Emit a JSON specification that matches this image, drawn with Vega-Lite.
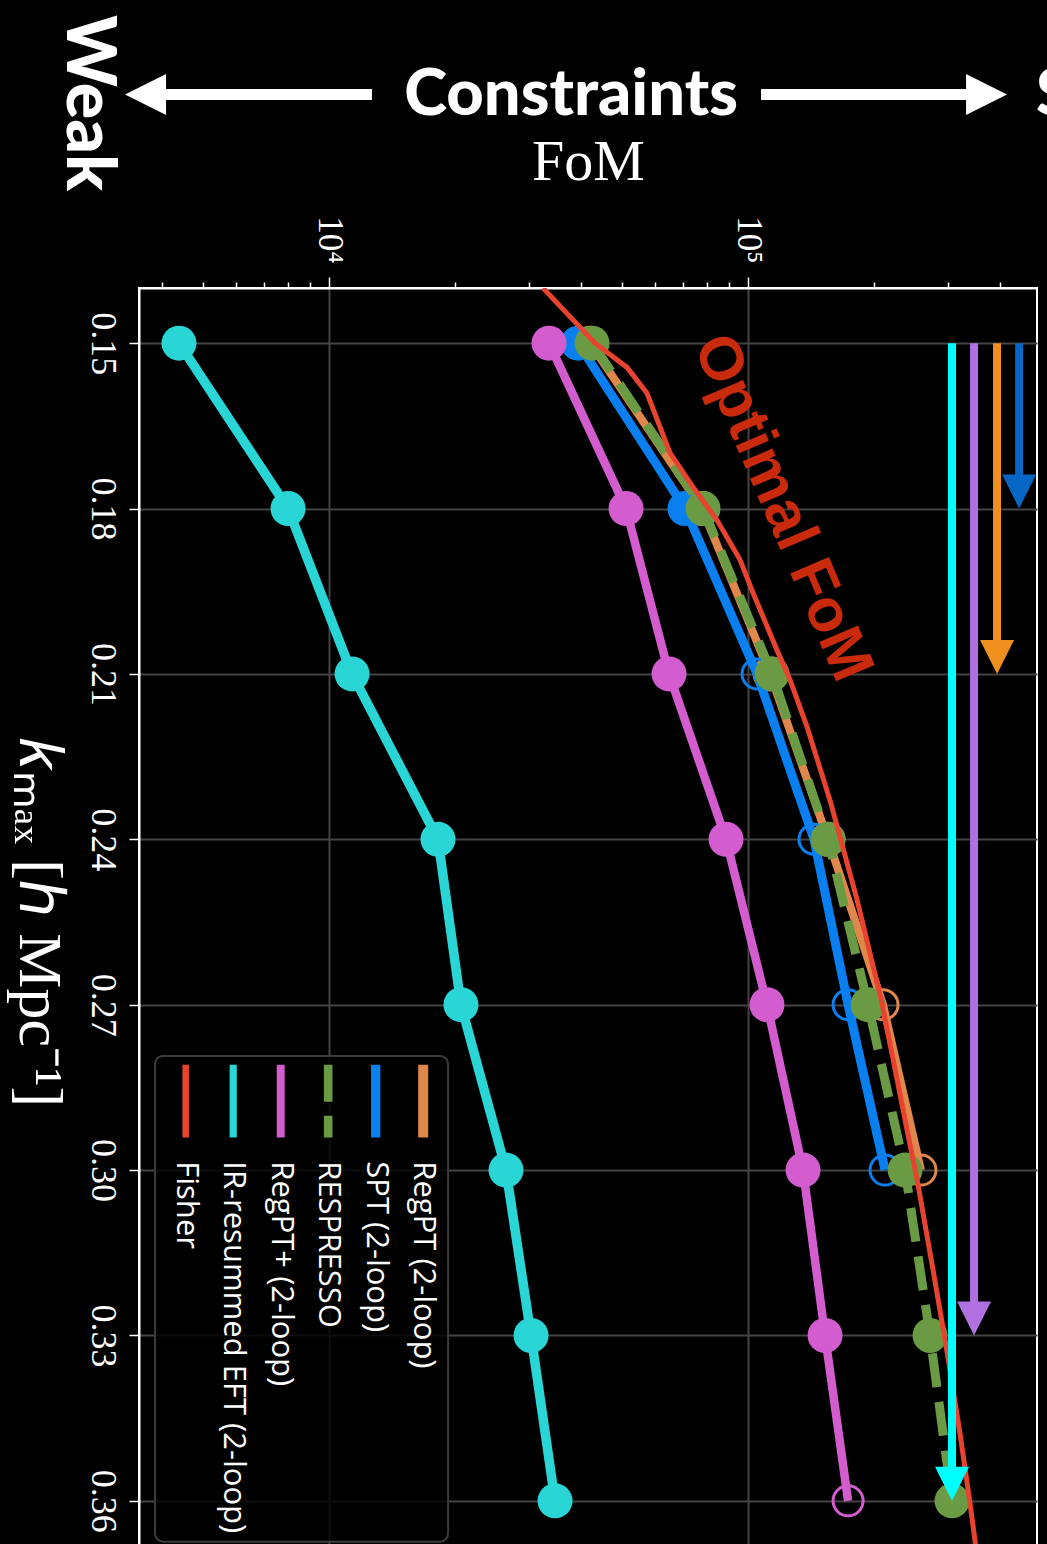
{
  "$schema": "https://vega.github.io/schema/vega-lite/v6.json",
  "width": 898,
  "height": 1268,
  "autosize": {"type": "none"},
  "padding": {"left": 139, "top": 288, "right": 10, "bottom": 0},
  "background": "black",
  "config": {
    "view": {"stroke": "white", "strokeWidth": 2},
    "axis": {"labelColor": "white", "titleColor": "white", "tickColor": "white", "domainColor": "white", "domainWidth": 2}
  },
  "datasets": {
    "series": [
      {"model": "RegPT (2-loop)", "k": 0.15, "fom": 41970, "open": false},
      {"model": "RegPT (2-loop)", "k": 0.18, "fom": 77660, "open": false},
      {"model": "RegPT (2-loop)", "k": 0.21, "fom": 112900, "open": false},
      {"model": "RegPT (2-loop)", "k": 0.24, "fom": 155200, "open": false},
      {"model": "RegPT (2-loop)", "k": 0.27, "fom": 210000, "open": true},
      {"model": "RegPT (2-loop)", "k": 0.30, "fom": 258700, "open": true},
      {"model": "SPT (2-loop)", "k": 0.15, "fom": 39300, "open": false},
      {"model": "SPT (2-loop)", "k": 0.18, "fom": 70720, "open": false},
      {"model": "SPT (2-loop)", "k": 0.21, "fom": 105100, "open": true},
      {"model": "SPT (2-loop)", "k": 0.24, "fom": 143700, "open": true},
      {"model": "SPT (2-loop)", "k": 0.27, "fom": 173300, "open": true},
      {"model": "SPT (2-loop)", "k": 0.30, "fom": 212300, "open": true},
      {"model": "RESPRESSO", "k": 0.15, "fom": 42430, "open": false},
      {"model": "RESPRESSO", "k": 0.18, "fom": 78090, "open": false},
      {"model": "RESPRESSO", "k": 0.21, "fom": 114100, "open": false},
      {"model": "RESPRESSO", "k": 0.24, "fom": 155200, "open": false},
      {"model": "RESPRESSO", "k": 0.27, "fom": 193400, "open": false},
      {"model": "RESPRESSO", "k": 0.30, "fom": 237000, "open": false},
      {"model": "RESPRESSO", "k": 0.33, "fom": 271900, "open": false},
      {"model": "RESPRESSO", "k": 0.36, "fom": 306800, "open": false},
      {"model": "RegPT+ (2-loop)", "k": 0.15, "fom": 33500, "open": false},
      {"model": "RegPT+ (2-loop)", "k": 0.18, "fom": 51160, "open": false},
      {"model": "RegPT+ (2-loop)", "k": 0.21, "fom": 64790, "open": false},
      {"model": "RegPT+ (2-loop)", "k": 0.24, "fom": 88620, "open": false},
      {"model": "RegPT+ (2-loop)", "k": 0.27, "fom": 111000, "open": false},
      {"model": "RegPT+ (2-loop)", "k": 0.30, "fom": 135300, "open": false},
      {"model": "RegPT+ (2-loop)", "k": 0.33, "fom": 152700, "open": false},
      {"model": "RegPT+ (2-loop)", "k": 0.36, "fom": 173300, "open": true},
      {"model": "IR-resummed EFT (2-loop)", "k": 0.15, "fom": 4385, "open": false},
      {"model": "IR-resummed EFT (2-loop)", "k": 0.18, "fom": 7985, "open": false},
      {"model": "IR-resummed EFT (2-loop)", "k": 0.21, "fom": 11350, "open": false},
      {"model": "IR-resummed EFT (2-loop)", "k": 0.24, "fom": 18200, "open": false},
      {"model": "IR-resummed EFT (2-loop)", "k": 0.27, "fom": 20650, "open": false},
      {"model": "IR-resummed EFT (2-loop)", "k": 0.30, "fom": 26450, "open": false},
      {"model": "IR-resummed EFT (2-loop)", "k": 0.33, "fom": 30350, "open": false},
      {"model": "IR-resummed EFT (2-loop)", "k": 0.36, "fom": 34630, "open": false}
    ],
    "fisher": [
      {"k": 0.140, "fom": 32420},
      {"k": 0.150, "fom": 43140},
      {"k": 0.1544, "fom": 51440},
      {"k": 0.1591, "fom": 57410},
      {"k": 0.1699, "fom": 65130},
      {"k": 0.1761, "fom": 73900},
      {"k": 0.1821, "fom": 84330},
      {"k": 0.1893, "fom": 95700},
      {"k": 0.1953, "fom": 102800},
      {"k": 0.2057, "fom": 117300},
      {"k": 0.2111, "fom": 126000},
      {"k": 0.2196, "fom": 138300},
      {"k": 0.2329, "fom": 156900},
      {"k": 0.2510, "fom": 182100},
      {"k": 0.2697, "fom": 208800},
      {"k": 0.2927, "fom": 239600},
      {"k": 0.3016, "fom": 253100},
      {"k": 0.3181, "fom": 276400},
      {"k": 0.3329, "fom": 298500},
      {"k": 0.3478, "fom": 320600},
      {"k": 0.3605, "fom": 338800},
      {"k": 0.3700, "fom": 352000}
    ],
    "reach": [
      {"model": "SPT (2-loop)", "fom": 443600, "kstart": 0.15, "kreach": 0.18},
      {"model": "RegPT (2-loop)", "fom": 392900, "kstart": 0.15, "kreach": 0.21},
      {"model": "RegPT+ (2-loop)", "fom": 346300, "kstart": 0.15, "kreach": 0.33},
      {"model": "IR-resummed EFT (2-loop)", "fom": 306800, "kstart": 0.15, "kreach": 0.36}
    ],
    "legend": [
      {"model": "RegPT (2-loop)"},
      {"model": "SPT (2-loop)"},
      {"model": "RESPRESSO"},
      {"model": "RegPT+ (2-loop)"},
      {"model": "IR-resummed EFT (2-loop)"},
      {"model": "Fisher"}
    ],
    "headline": [
      {"word": "Weak"},
      {"word": "Constraints"},
      {"word": "Strong"},
      {"word": "Optimal FoM"}
    ]
  },
  "resolve": {"scale": {"x": "independent"}, "axis": {"x": "independent"}},
  "layer": [
    {
      "layer": [
        {
          "data": {"name": "series"},
          "transform": [{"filter": "datum.model === 'RegPT (2-loop)'"}],
          "mark": {"type": "line", "strokeWidth": 8, "clip": true},
          "encoding": {
            "x": {
              "field": "fom",
              "type": "quantitative",
              "scale": {"type": "log", "domain": [3520, 489400], "nice": false},
              "axis": {
                "orient": "top",
                "values": [4000, 5000, 6000, 7000, 8000, 9000, 10000, 20000, 30000, 40000, 50000, 60000, 70000, 80000, 90000, 100000, 200000, 300000, 400000],
                "labelExpr": "datum.value == 10000 ? '10⁴' : datum.value == 100000 ? '10⁵' : ''",
                "labelOverlap": false,
                "labelAngle": 90,
                "labelAlign": "right",
                "labelBaseline": "middle",
                "labelFont": "Liberation Serif",
                "labelFontSize": 35,
                "labelPadding": 14,
                "tickWidth": 1.5,
                "tickSize": {"condition": {"test": "datum.value == 10000 || datum.value == 100000", "value": 11}, "value": 6},
                "grid": true,
                "gridColor": "#444444",
                "gridWidth": 2,
                "gridOpacity": {"condition": {"test": "datum.value == 10000 || datum.value == 100000", "value": 1}, "value": 0},
                "title": "FoM",
                "titleFont": "Liberation Serif",
                "titleFontSize": 58,
                "titleFontWeight": "normal",
                "titlePadding": 24
              }
            },
            "y": {
              "field": "k",
              "type": "quantitative",
              "scale": {"domain": [0.14, 0.37], "reverse": true, "nice": false, "zero": false},
              "axis": {
                "orient": "left",
                "values": [0.15, 0.18, 0.21, 0.24, 0.27, 0.30, 0.33, 0.36],
                "format": ".2f",
                "labelAngle": 90,
                "labelAlign": "center",
                "labelBaseline": "top",
                "labelFont": "Liberation Serif",
                "labelFontSize": 36,
                "labelPadding": 10,
                "tickSize": 10,
                "tickWidth": 1.5,
                "grid": true,
                "gridColor": "#444444",
                "gridWidth": 2,
                "title": "𝑘ₘₐₓ [ℎ Mpc⁻¹]",
                "titleAngle": 90,
                "titleBaseline": "top",
                "titleFont": "Liberation Serif",
                "titleFontSize": 62,
                "titleFontWeight": "normal",
                "titlePadding": 16
              }
            },
            "color": {
              "field": "model",
              "type": "nominal",
              "legend": null,
              "scale": {
                "domain": ["RegPT (2-loop)", "SPT (2-loop)", "RESPRESSO", "RegPT+ (2-loop)", "IR-resummed EFT (2-loop)", "Fisher"],
                "range": ["#e0884c", "#0a7ff0", "#6b9a45", "#d35dcf", "#2ad5d6", "#e8432f"]
              }
            },
            "order": {"field": "k"}
          }
        },
        {
          "data": {"name": "series"},
          "transform": [{"filter": "datum.model === 'RegPT (2-loop)' && !datum.open"}],
          "mark": {"type": "point", "filled": true, "opacity": 1, "size": 1225},
          "encoding": {"x": {"field": "fom", "type": "quantitative"}, "y": {"field": "k", "type": "quantitative"}, "color": {"field": "model", "type": "nominal"}}
        },
        {
          "data": {"name": "series"},
          "transform": [{"filter": "datum.model === 'RegPT (2-loop)' && datum.open"}],
          "mark": {"type": "point", "filled": false, "opacity": 1, "size": 900, "strokeWidth": 3},
          "encoding": {"x": {"field": "fom", "type": "quantitative"}, "y": {"field": "k", "type": "quantitative"}, "color": {"field": "model", "type": "nominal"}}
        },
        {
          "data": {"name": "series"},
          "transform": [{"filter": "datum.model === 'SPT (2-loop)'"}],
          "mark": {"type": "line", "strokeWidth": 9, "clip": true},
          "encoding": {"x": {"field": "fom", "type": "quantitative"}, "y": {"field": "k", "type": "quantitative"}, "color": {"field": "model", "type": "nominal"}, "order": {"field": "k"}}
        },
        {
          "data": {"name": "series"},
          "transform": [{"filter": "datum.model === 'SPT (2-loop)' && !datum.open"}],
          "mark": {"type": "point", "filled": true, "opacity": 1, "size": 1225},
          "encoding": {"x": {"field": "fom", "type": "quantitative"}, "y": {"field": "k", "type": "quantitative"}, "color": {"field": "model", "type": "nominal"}}
        },
        {
          "data": {"name": "series"},
          "transform": [{"filter": "datum.model === 'SPT (2-loop)' && datum.open"}],
          "mark": {"type": "point", "filled": false, "opacity": 1, "size": 900, "strokeWidth": 3},
          "encoding": {"x": {"field": "fom", "type": "quantitative"}, "y": {"field": "k", "type": "quantitative"}, "color": {"field": "model", "type": "nominal"}}
        },
        {
          "data": {"name": "series"},
          "transform": [{"filter": "datum.model === 'RESPRESSO'"}],
          "mark": {"type": "line", "strokeWidth": 9, "strokeDash": [34, 15], "clip": true},
          "encoding": {"x": {"field": "fom", "type": "quantitative"}, "y": {"field": "k", "type": "quantitative"}, "color": {"field": "model", "type": "nominal"}, "order": {"field": "k"}}
        },
        {
          "data": {"name": "series"},
          "transform": [{"filter": "datum.model === 'RESPRESSO'"}],
          "mark": {"type": "point", "filled": true, "opacity": 1, "size": 1225},
          "encoding": {"x": {"field": "fom", "type": "quantitative"}, "y": {"field": "k", "type": "quantitative"}, "color": {"field": "model", "type": "nominal"}}
        },
        {
          "data": {"name": "series"},
          "transform": [{"filter": "datum.model === 'RegPT+ (2-loop)'"}],
          "mark": {"type": "line", "strokeWidth": 8.5, "clip": true},
          "encoding": {"x": {"field": "fom", "type": "quantitative"}, "y": {"field": "k", "type": "quantitative"}, "color": {"field": "model", "type": "nominal"}, "order": {"field": "k"}}
        },
        {
          "data": {"name": "series"},
          "transform": [{"filter": "datum.model === 'RegPT+ (2-loop)' && !datum.open"}],
          "mark": {"type": "point", "filled": true, "opacity": 1, "size": 1225},
          "encoding": {"x": {"field": "fom", "type": "quantitative"}, "y": {"field": "k", "type": "quantitative"}, "color": {"field": "model", "type": "nominal"}}
        },
        {
          "data": {"name": "series"},
          "transform": [{"filter": "datum.model === 'RegPT+ (2-loop)' && datum.open"}],
          "mark": {"type": "point", "filled": false, "opacity": 1, "size": 900, "strokeWidth": 3},
          "encoding": {"x": {"field": "fom", "type": "quantitative"}, "y": {"field": "k", "type": "quantitative"}, "color": {"field": "model", "type": "nominal"}}
        },
        {
          "data": {"name": "series"},
          "transform": [{"filter": "datum.model === 'IR-resummed EFT (2-loop)'"}],
          "mark": {"type": "line", "strokeWidth": 9.5, "clip": true},
          "encoding": {"x": {"field": "fom", "type": "quantitative"}, "y": {"field": "k", "type": "quantitative"}, "color": {"field": "model", "type": "nominal"}, "order": {"field": "k"}}
        },
        {
          "data": {"name": "series"},
          "transform": [{"filter": "datum.model === 'IR-resummed EFT (2-loop)'"}],
          "mark": {"type": "point", "filled": true, "opacity": 1, "size": 1225},
          "encoding": {"x": {"field": "fom", "type": "quantitative"}, "y": {"field": "k", "type": "quantitative"}, "color": {"field": "model", "type": "nominal"}}
        },
        {
          "data": {"name": "fisher"},
          "mark": {"type": "line", "strokeWidth": 5, "clip": true, "color": "#e8432f"},
          "encoding": {"x": {"field": "fom", "type": "quantitative"}, "y": {"field": "k", "type": "quantitative"}, "order": {"field": "k"}}
        },
        {
          "data": {"name": "reach"},
          "mark": {"type": "rule", "strokeWidth": 8, "strokeCap": "butt", "y2Offset": -20},
          "encoding": {
            "x": {"field": "fom", "type": "quantitative"},
            "y": {"field": "kstart", "type": "quantitative"},
            "y2": {"field": "kreach"},
            "stroke": {
              "field": "model",
              "type": "nominal",
              "legend": null,
              "scale": {
                "domain": ["SPT (2-loop)", "RegPT (2-loop)", "RegPT+ (2-loop)", "IR-resummed EFT (2-loop)"],
                "range": ["#0566c4", "#f0901e", "#b070e0", "#00ffff"]
              }
            }
          }
        },
        {
          "data": {"name": "reach"},
          "mark": {"type": "point", "shape": "M-1,-2L1,-2L0,0Z", "size": 1156, "filled": true, "opacity": 1, "strokeWidth": 0},
          "encoding": {
            "x": {"field": "fom", "type": "quantitative"},
            "y": {"field": "kreach", "type": "quantitative"},
            "fill": {
              "field": "model",
              "type": "nominal",
              "legend": null,
              "scale": {
                "domain": ["SPT (2-loop)", "RegPT (2-loop)", "RegPT+ (2-loop)", "IR-resummed EFT (2-loop)"],
                "range": ["#0566c4", "#f0901e", "#b070e0", "#00ffff"]
              }
            }
          }
        },
        {
          "data": {"name": "headline"},
          "transform": [{"filter": "datum.word === 'Optimal FoM'"}],
          "mark": {"type": "text", "angle": 67, "align": "center", "baseline": "middle", "font": "Liberation Sans", "fontWeight": "bold", "fontSize": 61, "fill": "#c92a0c"},
          "encoding": {
            "x": {"datum": 120540, "type": "quantitative"},
            "y": {"datum": 0.1799, "type": "quantitative"},
            "text": {"field": "word"}
          }
        },
        {
          "data": {"name": "headline"},
          "transform": [{"filter": "datum.word === 'Weak'"}],
          "mark": {"type": "text", "angle": 90, "align": "left", "baseline": "alphabetic", "font": "Lato", "fontWeight": 900, "fontSize": 68, "fill": "white"},
          "encoding": {
            "x": {"datum": 2370, "type": "quantitative"},
            "y": {"datum": 0.0905, "type": "quantitative"},
            "text": {"field": "word"}
          }
        },
        {
          "data": {"name": "headline"},
          "transform": [{"filter": "datum.word === 'Constraints'"}],
          "mark": {"type": "text", "align": "center", "baseline": "alphabetic", "font": "Lato", "fontWeight": 900, "fontSize": 65, "fill": "white"},
          "encoding": {
            "x": {"datum": 37810, "type": "quantitative"},
            "y": {"datum": 0.1087, "type": "quantitative"},
            "text": {"field": "word"}
          }
        },
        {
          "data": {"name": "headline"},
          "transform": [{"filter": "datum.word === 'Strong'"}],
          "mark": {"type": "text", "align": "left", "baseline": "alphabetic", "font": "Lato", "fontWeight": 900, "fontSize": 65, "fill": "white"},
          "encoding": {
            "x": {"datum": 486800, "type": "quantitative"},
            "y": {"datum": 0.1087, "type": "quantitative"},
            "text": {"field": "word"}
          }
        },
        {
          "data": {"name": "headline"},
          "transform": [{"filter": "datum.word === 'Constraints'"}],
          "mark": {"type": "rule", "strokeWidth": 11, "strokeCap": "butt", "x2Offset": 30, "stroke": "white"},
          "encoding": {
            "x": {"datum": 12660, "type": "quantitative"},
            "x2": {"datum": 3260},
            "y": {"datum": 0.1049, "type": "quantitative"}
          }
        },
        {
          "data": {"name": "headline"},
          "transform": [{"filter": "datum.word === 'Constraints'"}],
          "mark": {"type": "rule", "strokeWidth": 11, "strokeCap": "butt", "x2Offset": -30, "stroke": "white"},
          "encoding": {
            "x": {"datum": 107400, "type": "quantitative"},
            "x2": {"datum": 415100},
            "y": {"datum": 0.1049, "type": "quantitative"}
          }
        },
        {
          "data": {"name": "headline"},
          "transform": [{"filter": "datum.word === 'Constraints'"}],
          "mark": {"type": "point", "shape": "M0,0L2,-1L2,1Z", "size": 1681, "filled": true, "opacity": 1, "strokeWidth": 0, "fill": "white"},
          "encoding": {
            "x": {"datum": 3260, "type": "quantitative"},
            "y": {"datum": 0.1049, "type": "quantitative"}
          }
        },
        {
          "data": {"name": "headline"},
          "transform": [{"filter": "datum.word === 'Constraints'"}],
          "mark": {"type": "point", "shape": "M0,0L-2,-1L-2,1Z", "size": 1681, "filled": true, "opacity": 1, "strokeWidth": 0, "fill": "white"},
          "encoding": {
            "x": {"datum": 415100, "type": "quantitative"},
            "y": {"datum": 0.1049, "type": "quantitative"}
          }
        },
        {
          "data": {"name": "legend"},
          "transform": [{"aggregate": [{"op": "count", "as": "n"}]}],
          "mark": {"type": "rect", "fill": "black", "fillOpacity": 0.8, "stroke": "#3c3c3c", "strokeWidth": 2, "cornerRadius": 8},
          "encoding": {
            "x": {"datum": 3844, "type": "quantitative"},
            "x2": {"datum": 19240},
            "y": {"datum": 0.2793, "type": "quantitative"},
            "y2": {"datum": 0.3674}
          }
        }
      ]
    },
    {
      "data": {"name": "legend"},
      "encoding": {
        "x": {
          "field": "model",
          "type": "nominal",
          "axis": null,
          "scale": {
            "type": "point",
            "domain": ["Fisher", "IR-resummed EFT (2-loop)", "RegPT+ (2-loop)", "RESPRESSO", "SPT (2-loop)", "RegPT (2-loop)"],
            "range": [46.7, 284.2],
            "padding": 0
          }
        }
      },
      "layer": [
        {
          "mark": {"type": "rule", "strokeCap": "butt"},
          "encoding": {
            "y": {"datum": 0.2809, "type": "quantitative"},
            "y2": {"datum": 0.2941},
            "color": {"field": "model", "type": "nominal"},
            "strokeWidth": {
              "field": "model",
              "type": "nominal",
              "legend": null,
              "scale": {
                "domain": ["Fisher", "IR-resummed EFT (2-loop)", "RegPT+ (2-loop)", "RESPRESSO", "SPT (2-loop)", "RegPT (2-loop)"],
                "range": [6.5, 10, 9, 10, 9, 9]
              }
            },
            "strokeDash": {
              "field": "model",
              "type": "nominal",
              "legend": null,
              "scale": {
                "domain": ["Fisher", "IR-resummed EFT (2-loop)", "RegPT+ (2-loop)", "RESPRESSO", "SPT (2-loop)", "RegPT (2-loop)"],
                "range": [[1, 0], [1, 0], [1, 0], [37, 14], [1, 0], [1, 0]]
              }
            }
          }
        },
        {
          "mark": {"type": "text", "angle": 90, "align": "left", "baseline": "middle", "font": "Open Sans", "fontSize": 31, "fill": "white"},
          "encoding": {
            "y": {"datum": 0.2984, "type": "quantitative"},
            "text": {"field": "model"}
          }
        }
      ]
    }
  ]
}
